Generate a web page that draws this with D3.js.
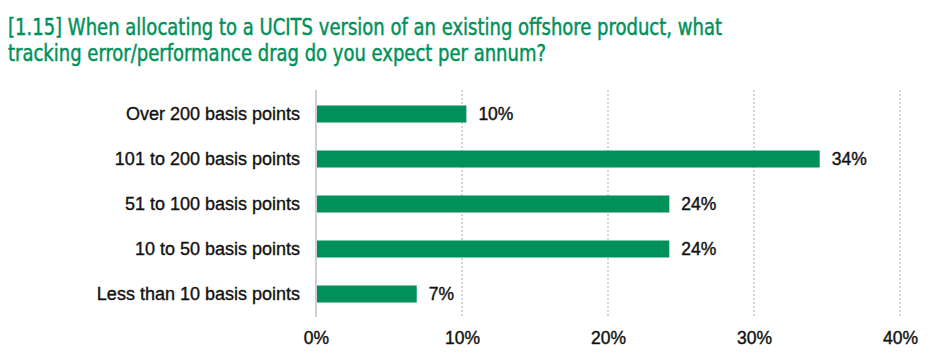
<!DOCTYPE html>
<html>
<head>
<meta charset="utf-8">
<script src="https://cdn.jsdelivr.net/npm/d3@7/dist/d3.min.js"></script>
<style>
  html, body { margin: 0; padding: 0; background: #ffffff; }
  svg { display: block; }
</style>
</head>
<body>
<svg id="chart" width="940" height="364"></svg>
<script>
const titleLines = [
  "[1.15] When allocating to a UCITS version of an existing offshore product, what",
  "tracking error/performance drag do you expect per annum?"
];
const categories = [
  "Over 200 basis points",
  "101 to 200 basis points",
  "51 to 100 basis points",
  "10 to 50 basis points",
  "Less than 10 basis points"
];
const values = [10.3, 34.5, 24.2, 24.2, 6.9];
const valueLabels = ["10%", "34%", "24%", "24%", "7%"];
const tickValues = [0, 10, 20, 30, 40];
const tickLabels = ["0%", "10%", "20%", "30%", "40%"];

const green = "#00915b";
const font = "'Liberation Sans', Arial, sans-serif";
const svg = d3.select("#chart");

// Title
const titleWidths = [714, 538];
const title = svg.append("g");
titleLines.forEach((t, i) => {
  const el = title.append("text")
    .attr("x", 8)
    .attr("y", 35 + i * 26)
    .attr("fill", green)
    .attr("stroke", green)
    .attr("stroke-width", 0.45)
    .style("font-family", "'Liberation Sans Narrow', 'DejaVu Sans Condensed', " + font)
    .style("font-size", "22.5px")
    .text(t);
  const w = el.node().getComputedTextLength();
  if (Math.abs(w - titleWidths[i]) > 2) {
    el.attr("textLength", titleWidths[i]).attr("lengthAdjust", "spacingAndGlyphs");
  }
});

const x = d3.scaleLinear().domain([0, 40]).range([316, 900]);
const y = d3.scaleBand().domain(categories).range([91.5, 316.5])
  .paddingInner(0.622).paddingOuter(0.311);

// Gridlines
svg.append("g").selectAll("line")
  .data(tickValues.filter(v => v > 0))
  .join("line")
  .attr("x1", d => x(d)).attr("x2", d => x(d))
  .attr("y1", 90).attr("y2", 317)
  .attr("stroke", "#c9c9c9")
  .attr("stroke-width", 1.5)
  .attr("stroke-dasharray", "2,2");

// Bars
svg.append("g").selectAll("rect")
  .data(values)
  .join("rect")
  .attr("x", x(0))
  .attr("y", (d, i) => y(categories[i]))
  .attr("width", d => x(d) - x(0))
  .attr("height", y.bandwidth())
  .attr("fill", green);

// Zero axis line
svg.append("line")
  .attr("x1", x(0)).attr("x2", x(0))
  .attr("y1", 90).attr("y2", 317)
  .attr("stroke", "#cfcfcf")
  .attr("stroke-width", 2);

const ink = "#111111";

// Category labels
svg.append("g").selectAll("text")
  .data(categories)
  .join("text")
  .attr("x", 300)
  .attr("y", d => y(d) + y.bandwidth() / 2)
  .attr("dy", "0.35em")
  .attr("text-anchor", "end")
  .attr("fill", ink)
  .attr("stroke", ink)
  .attr("stroke-width", 0.35)
  .style("font-family", font)
  .style("font-size", "18px")
  .text(d => d);

// Value labels
svg.append("g").selectAll("text")
  .data(values)
  .join("text")
  .attr("x", d => x(d) + 12)
  .attr("y", (d, i) => y(categories[i]) + y.bandwidth() / 2)
  .attr("dy", "0.36em")
  .attr("fill", ink)
  .attr("stroke", ink)
  .attr("stroke-width", 0.4)
  .style("font-family", font)
  .style("font-size", "17.5px")
  .text((d, i) => valueLabels[i]);

// X axis
const axis = d3.axisBottom(x)
  .tickValues(tickValues)
  .tickFormat((d, i) => tickLabels[i])
  .tickSize(0)
  .tickPadding(0);
const gx = svg.append("g").attr("transform", "translate(0,331.5)").call(axis);
gx.select(".domain").remove();
gx.selectAll("text")
  .attr("dy", "0.71em")
  .attr("fill", ink)
  .attr("stroke", ink)
  .attr("stroke-width", 0.4)
  .style("font-family", font)
  .style("font-size", "17.5px");
</script>
</body>
</html>
